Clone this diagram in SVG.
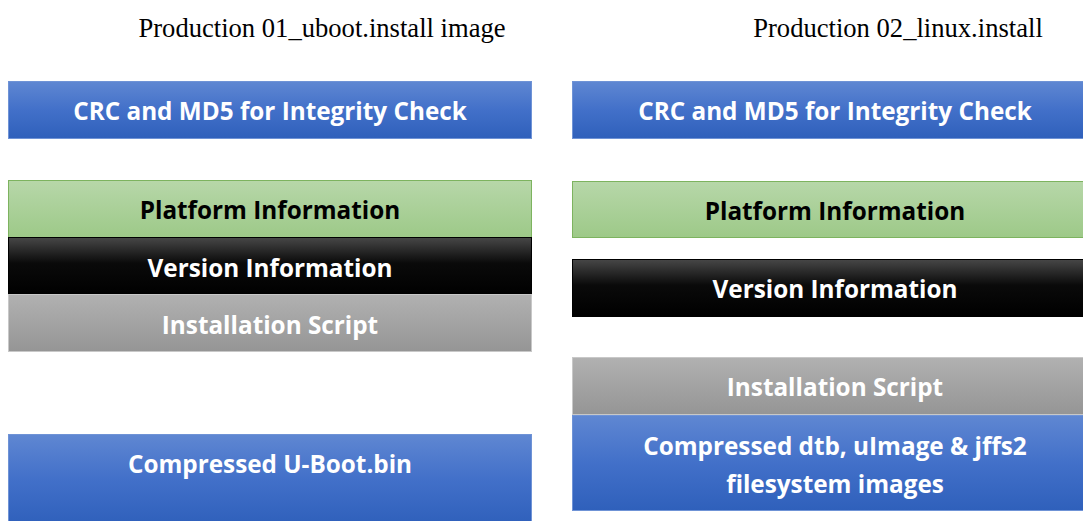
<svg xmlns="http://www.w3.org/2000/svg" width="1083" height="521" viewBox="0 0 1083 521">
  <defs>
    <linearGradient id="gBlue" x1="0" y1="0" x2="0" y2="1">
      <stop offset="0" stop-color="#5f87d2"/>
      <stop offset="0.5" stop-color="#4270c9"/>
      <stop offset="1" stop-color="#2f60bb"/>
    </linearGradient>
    <linearGradient id="gGreen" x1="0" y1="0" x2="0" y2="1">
      <stop offset="0" stop-color="#b7d7a9"/>
      <stop offset="1" stop-color="#9dc988"/>
    </linearGradient>
    <linearGradient id="gBlack" x1="0" y1="0" x2="0" y2="1">
      <stop offset="0" stop-color="#474747"/>
      <stop offset="0.45" stop-color="#0a0a0a"/>
      <stop offset="1" stop-color="#000000"/>
    </linearGradient>
    <linearGradient id="gGray" x1="0" y1="0" x2="0" y2="1">
      <stop offset="0" stop-color="#b1b1b1"/>
      <stop offset="1" stop-color="#959595"/>
    </linearGradient>
  </defs>
  <style>
    .title { font-family: "Liberation Serif", "Times New Roman", serif; font-size: 26.6px; fill: #000; text-anchor: middle; }
    .lbl { font-family: "Open Sans", "Liberation Sans", sans-serif; font-weight: bold; font-size: 24.3px; text-anchor: middle; }
    .w { fill: #ffffff; }
    .k { fill: #000000; }
    .blue { fill: url(#gBlue); stroke: #6f93d6; stroke-width: 1; }
    .green { fill: url(#gGreen); stroke: #7db35f; stroke-width: 1; }
    .black { fill: url(#gBlack); stroke: #000; stroke-width: 1; }
    .gray { fill: url(#gGray); stroke: #c8c8c8; stroke-width: 1; }
  </style>
  <rect width="1083" height="521" fill="#ffffff"/>

  <!-- column titles -->
  <text class="title" x="322" y="37">Production 01_uboot.install image</text>
  <text class="title" x="898" y="37">Production 02_linux.install</text>

  <!-- left column: 01_uboot.install -->
  <g id="uboot-crc">
    <rect class="blue" x="8.5" y="81.5" width="523" height="57"/>
    <text class="lbl w" x="270" y="120">CRC and MD5 for Integrity Check</text>
  </g>
  <g id="uboot-platform">
    <rect class="green" x="8.5" y="180.5" width="523" height="57"/>
    <text class="lbl k" x="270" y="219">Platform Information</text>
  </g>
  <g id="uboot-version">
    <rect class="black" x="8.5" y="237.5" width="523" height="57"/>
    <text class="lbl w" x="270" y="277">Version Information</text>
  </g>
  <g id="uboot-script">
    <rect class="gray" x="8.5" y="294.5" width="523" height="57"/>
    <text class="lbl w" x="270" y="334">Installation Script</text>
  </g>
  <g id="uboot-bin">
    <rect class="blue" x="8.5" y="434.5" width="523" height="90"/>
    <text class="lbl w" x="270" y="473">Compressed U-Boot.bin</text>
  </g>

  <!-- right column: 02_linux.install -->
  <g id="linux-crc">
    <rect class="blue" x="572.5" y="81.5" width="523" height="57"/>
    <text class="lbl w" x="835" y="120">CRC and MD5 for Integrity Check</text>
  </g>
  <g id="linux-platform">
    <rect class="green" x="572.5" y="181.5" width="523" height="56"/>
    <text class="lbl k" x="835" y="220">Platform Information</text>
  </g>
  <g id="linux-version">
    <rect class="black" x="572.5" y="259.5" width="523" height="57"/>
    <text class="lbl w" x="835" y="298">Version Information</text>
  </g>
  <g id="linux-script">
    <rect class="gray" x="572.5" y="357.5" width="523" height="57"/>
    <text class="lbl w" x="835" y="396">Installation Script</text>
  </g>
  <g id="linux-images">
    <rect class="blue" x="572.5" y="415.5" width="523" height="95"/>
    <text class="lbl w" x="835" y="455">Compressed dtb, uImage &amp; jffs2</text>
    <text class="lbl w" x="835" y="493">filesystem images</text>
  </g>

  <g id="connectors"/>
</svg>
